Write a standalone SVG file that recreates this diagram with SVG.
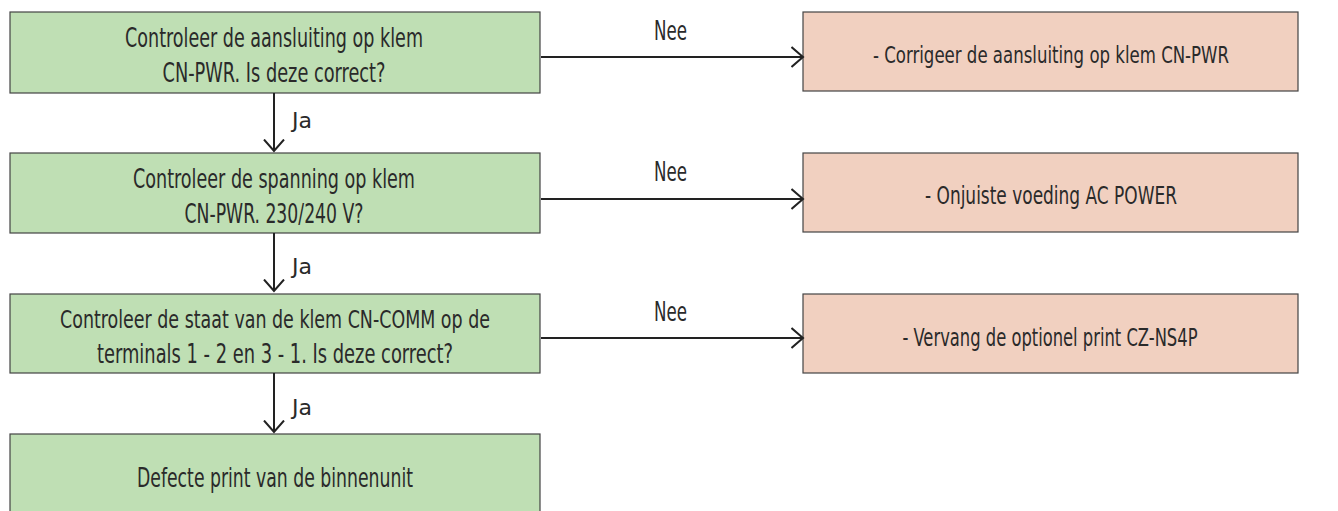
<svg xmlns="http://www.w3.org/2000/svg" width="1338" height="511" viewBox="0 0 1338 511">
<style>
.g{fill:#bfdfb4;stroke:#444;stroke-width:1.2}
.p{fill:#f1d0c0;stroke:#444;stroke-width:1.2}
text{font-family:"DejaVu Sans Condensed","DejaVu Sans",sans-serif;font-size:27px;fill:#2a2a2a;text-anchor:middle}
text.s{font-size:25px}
text.xs{font-size:23px}
text.l{font-size:22px;text-anchor:start}
.c{fill:none;stroke:#222;stroke-width:2}
</style>
<defs>
<marker id="ah" viewBox="0 0 14 22" refX="12.5" refY="11" markerWidth="14" markerHeight="22" markerUnits="userSpaceOnUse" orient="auto">
<path d="M1,1 L12.5,11 L1,21" fill="none" stroke="#222" stroke-width="2"/>
</marker>
</defs>
<g id="n1"><rect class="g" x="10" y="12" width="530" height="81"/><text x="274" y="47" textLength="298" lengthAdjust="spacingAndGlyphs">Controleer de aansluiting op klem</text><text x="274" y="82" textLength="223" lengthAdjust="spacingAndGlyphs">CN-PWR. Is deze correct?</text></g>
<g id="n2"><rect class="g" x="10" y="153" width="530" height="80"/><text x="274" y="188" textLength="282" lengthAdjust="spacingAndGlyphs">Controleer de spanning op klem</text><text x="274" y="223" textLength="179" lengthAdjust="spacingAndGlyphs">CN-PWR. 230/240 V?</text></g>
<g id="n3"><rect class="g" x="10" y="294" width="530" height="79"/><text class="s" x="275" y="328" textLength="430" lengthAdjust="spacingAndGlyphs">Controleer de staat van de klem CN-COMM op de</text><text x="275" y="363" textLength="356" lengthAdjust="spacingAndGlyphs">terminals 1 - 2 en 3 - 1. Is deze correct?</text></g>
<g id="n4"><rect class="g" x="10" y="434" width="530" height="85"/><text x="275" y="487" textLength="276" lengthAdjust="spacingAndGlyphs">Defecte print van de binnenunit</text></g>
<g id="p1"><rect class="p" x="803" y="12" width="495" height="79"/><text class="xs" x="1051" y="63" textLength="356" lengthAdjust="spacingAndGlyphs">- Corrigeer de aansluiting op klem CN-PWR</text></g>
<g id="p2"><rect class="p" x="803" y="153" width="495" height="79"/><text class="s" x="1051" y="204" textLength="252" lengthAdjust="spacingAndGlyphs">- Onjuiste voeding AC POWER</text></g>
<g id="p3"><rect class="p" x="803" y="294" width="495" height="79"/><text class="s" x="1050" y="346" textLength="295" lengthAdjust="spacingAndGlyphs">- Vervang de optionel print CZ-NS4P</text></g>
<g id="connectors">
<line class="c" x1="541" y1="57" x2="803" y2="57" marker-end="url(#ah)"/>
<line class="c" x1="541" y1="199" x2="803" y2="199" marker-end="url(#ah)"/>
<line class="c" x1="541" y1="338" x2="803" y2="338" marker-end="url(#ah)"/>
<line class="c" x1="274" y1="93" x2="274" y2="151" marker-end="url(#ah)"/>
<line class="c" x1="274" y1="233" x2="274" y2="291" marker-end="url(#ah)"/>
<line class="c" x1="274" y1="373" x2="274" y2="432" marker-end="url(#ah)"/>
<text x="670.5" y="40" textLength="33" lengthAdjust="spacingAndGlyphs">Nee</text>
<text x="670.5" y="181" textLength="33" lengthAdjust="spacingAndGlyphs">Nee</text>
<text x="670.5" y="321" textLength="33" lengthAdjust="spacingAndGlyphs">Nee</text>
<text class="l" x="292" y="128" textLength="20" lengthAdjust="spacingAndGlyphs">Ja</text>
<text class="l" x="292" y="274" textLength="20" lengthAdjust="spacingAndGlyphs">Ja</text>
<text class="l" x="292" y="415" textLength="20" lengthAdjust="spacingAndGlyphs">Ja</text>
</g>
</svg>
